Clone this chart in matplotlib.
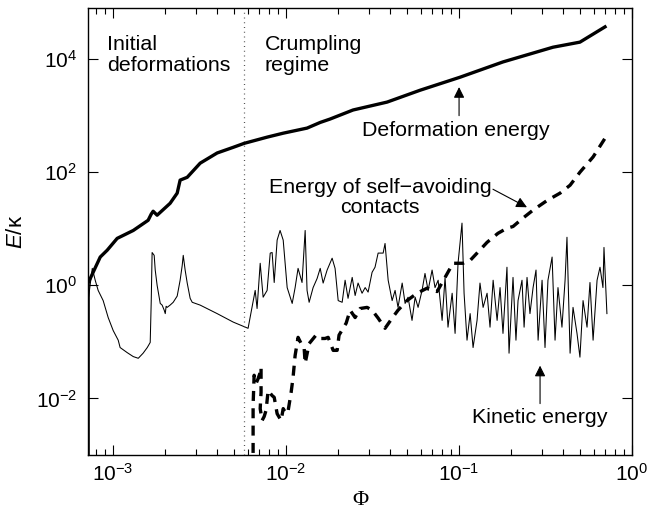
import numpy as np
import matplotlib
matplotlib.use("Agg")
import matplotlib.pyplot as plt
from matplotlib.ticker import FixedLocator, LogLocator, NullLocator, LogFormatterSciNotation

plt.rcParams['font.family'] = ['Liberation Sans', 'DejaVu Sans']
plt.rcParams['mathtext.fontset'] = 'custom'
plt.rcParams['mathtext.rm'] = 'Liberation Sans'
plt.rcParams['mathtext.it'] = 'Liberation Sans:italic'

# values, stored as log10(Phi) and log10(E/kappa)
deform_logphi = [-3.145, -3.145, -3.075, -3.035, -2.977, -2.884, -2.798, -2.780, -2.769,
                 -2.746, -2.671, -2.630, -2.613, -2.572, -2.497, -2.399, -2.306, -2.243,
                 -2.110, -2.017, -1.879, -1.803, -1.746, -1.613, -1.416, -1.225, -0.994,
                 -0.746, -0.457, -0.301, -0.156]
deform_logE = [-3.30, 0.04, 0.50, 0.62, 0.83, 0.97, 1.15, 1.26, 1.31,
               1.24, 1.45, 1.63, 1.86, 1.91, 2.16, 2.34, 2.44, 2.51,
               2.62, 2.69, 2.78, 2.88, 2.94, 3.10, 3.24, 3.45, 3.68,
               3.95, 4.21, 4.30, 4.57]

contact_logphi = [-2.191, -2.191, -2.191, -2.185, -2.173, -2.162, -2.150, -2.145, -2.145,
                  -2.150, -2.139, -2.127, -2.116, -2.104, -2.081, -2.069, -2.052, -2.029,
                  -2.017, -2.000, -1.988, -1.971, -1.960, -1.948, -1.931, -1.913, -1.896,
                  -1.890, -1.867, -1.827, -1.803, -1.775, -1.757, -1.728, -1.705, -1.694,
                  -1.653, -1.630, -1.601, -1.572, -1.532, -1.503, -1.468, -1.428, -1.387,
                  -1.353, -1.301, -1.243, -1.185, -1.127, -1.081, -1.035, -0.977, -0.936,
                  -0.896, -0.838, -0.775, -0.723, -0.688, -0.630, -0.572, -0.491, -0.416,
                  -0.358, -0.301, -0.225, -0.156]
contact_logE = [-3.27, -2.69, -2.12, -1.59, -1.73, -1.65, -1.54, -1.45, -1.89,
                -2.18, -2.39, -2.32, -2.21, -1.86, -1.95, -1.98, -2.27, -2.39,
                -2.18, -2.27, -2.21, -1.89, -1.63, -1.24, -0.92, -1.03, -1.10,
                -1.38, -1.03, -0.88, -0.94, -0.94, -0.92, -1.15, -1.15, -0.88,
                -0.67, -0.44, -0.57, -0.41, -0.39, -0.44, -0.58, -0.76, -0.58,
                -0.44, -0.27, -0.14, -0.05, -0.11, 0.14, 0.39, 0.39, 0.44,
                0.57, 0.76, 0.92, 1.01, 1.04, 1.19, 1.33, 1.50, 1.63,
                1.77, 2.00, 2.27, 2.60]

kin_logphi = [-3.145, -3.121, -3.104, -3.087, -3.058, -3.029, -3.000, -2.971, -2.960, -2.919,
              -2.884, -2.855, -2.827, -2.803, -2.786, -2.780, -2.775, -2.763, -2.757, -2.746,
              -2.728, -2.717, -2.705, -2.699, -2.694, -2.688, -2.671, -2.653, -2.630, -2.613,
              -2.601, -2.595, -2.584, -2.572, -2.555, -2.543, -2.497, -2.399, -2.306, -2.220,
              -2.179, -2.168, -2.150, -2.133, -2.110, -2.092, -2.081, -2.069, -2.052, -2.035,
              -2.017, -1.994, -1.965, -1.948, -1.931, -1.908, -1.890, -1.879, -1.867, -1.844,
              -1.821, -1.803, -1.786, -1.763, -1.734, -1.717, -1.699, -1.676, -1.659, -1.642,
              -1.618, -1.601, -1.584, -1.561, -1.543, -1.526, -1.503, -1.486, -1.468, -1.457,
              -1.439, -1.428, -1.410, -1.387, -1.370, -1.353, -1.329, -1.312, -1.295, -1.272,
              -1.254, -1.237, -1.214, -1.197, -1.179, -1.156, -1.139, -1.121, -1.098, -1.081,
              -1.064, -1.040, -1.023, -1.006, -0.983, -0.971, -0.954, -0.936, -0.919, -0.896,
              -0.879, -0.861, -0.838, -0.821, -0.803, -0.780, -0.763, -0.746, -0.723, -0.711,
              -0.688, -0.671, -0.659, -0.636, -0.624, -0.607, -0.590, -0.572, -0.555, -0.543,
              -0.520, -0.503, -0.486, -0.462, -0.445, -0.428, -0.405, -0.387, -0.376, -0.358,
              -0.341, -0.318, -0.301, -0.283, -0.260, -0.243, -0.225, -0.202, -0.185, -0.168,
              -0.162, -0.145]
kin_logE = [-0.27, 0.30, 0.09, -0.09, -0.27, -0.57, -0.80, -0.97, -1.10, -1.19,
            -1.26, -1.29, -1.20, -1.10, -1.01, -0.27, 0.58, 0.53, 0.27, 0.00,
            -0.32, -0.35, -0.44, -0.50, -0.37, -0.39, -0.35, -0.30, -0.19, 0.09,
            0.35, 0.53, 0.27, 0.04, -0.23, -0.30, -0.35, -0.50, -0.65, -0.76,
            -0.09, -0.41, 0.39, -0.21, -0.09, 0.57, 0.58, 0.05, 0.80, 0.97,
            0.80, -0.04, -0.32, -0.04, 0.30, 0.05, 0.97, -0.09, -0.30, -0.04,
            0.12, 0.30, 0.04, 0.27, 0.48, 0.30, -0.27, -0.30, 0.09, -0.23,
            0.14, -0.18, 0.04, -0.14, -0.04, -0.12, 0.23, 0.32, 0.57, 0.57,
            0.57, 0.74, 0.09, -0.27, -0.09, -0.39, 0.04, -0.32, -0.21, -0.62,
            -0.21, -0.39, -0.09, 0.21, -0.09, 0.27, -0.04, 0.09, -0.62, 0.14,
            -0.74, -0.14, -0.85, 0.39, 1.10, -0.14, -0.97, -0.50, -1.10, -0.62,
            0.04, -0.39, -0.14, -0.74, 0.09, -0.62, -0.04, -0.85, 0.32, -1.20,
            0.14, -0.97, -0.27, 0.09, -0.74, 0.14, -0.50, -0.04, 0.27, -0.97,
            0.09, -1.10, 0.09, 0.50, -0.97, -0.04, -0.74, 0.09, 0.85, -1.20,
            -0.39, -0.85, -1.27, -0.27, -0.74, 0.05, -0.97, 0.09, 0.32, -0.04,
            0.67, -0.50]

phi_boundary = 5.7e-3
yticks = [1e-2, 1e0, 1e2, 1e4]

fig = plt.figure(figsize=(6.49, 5.11), dpi=100)
ax = fig.add_axes([0.1356, 0.1096, 0.8382, 0.8747])

ax.plot(np.power(10.0, kin_logphi), np.power(10.0, kin_logE), color='k', lw=0.75)
ax.plot(np.power(10.0, contact_logphi), np.power(10.0, contact_logE), color='k', lw=2.4,
        ls=(0, (3.0, 2.2)))
ax.plot(np.power(10.0, deform_logphi), np.power(10.0, deform_logE), color='k', lw=2.4)
ax.axvline(phi_boundary, color='#555555', lw=0.9, ls=(0, (0.8, 3)))

ax.set_xscale('log')
ax.set_yscale('log')
ax.set_xlim(7.15e-4, 1.0)
ax.set_ylim(1.0e-3, 8.0e4)

ax.xaxis.set_major_locator(FixedLocator([1e-3, 1e-2, 1e-1, 1e0]))
ax.xaxis.set_minor_locator(LogLocator(base=10, subs=np.arange(2, 10), numticks=10))
ax.yaxis.set_major_locator(FixedLocator(yticks))
ax.yaxis.set_minor_locator(NullLocator())
ax.xaxis.set_major_formatter(LogFormatterSciNotation())
ax.yaxis.set_major_formatter(LogFormatterSciNotation())

ax.tick_params(which='both', direction='in', top=True, right=True, labelsize=15)
ax.tick_params(which='major', length=7, width=0.8)
ax.tick_params(which='minor', length=4, width=0.8)
ax.tick_params(axis='y', pad=8)
ax.tick_params(axis='x', pad=6)
for s in ax.spines.values():
    s.set_linewidth(1.0)

ax.set_xlabel('Φ', fontsize=16, family=['Liberation Serif', 'DejaVu Serif'], labelpad=4)
ax.set_ylabel(r'$E$/κ', fontsize=16, labelpad=6)

fs = 15.4
ax.text(0.035, 0.94, 'Initial\ndeformations', transform=ax.transAxes, fontsize=fs,
        va='top', ha='left', linespacing=1.15)
ax.text(0.325, 0.94, 'Crumpling\nregime', transform=ax.transAxes, fontsize=fs,
        va='top', ha='left', linespacing=1.15)

arrow = dict(arrowstyle='-|>', color='k', lw=0.8, mutation_scale=16, shrinkA=0, shrinkB=0)

ax.text(0.096, 5.5e2, 'Deformation energy', fontsize=fs, ha='center', va='center')
ax.annotate('', xy=(0.1, 3.2e3), xytext=(0.1, 1.0e3), arrowprops=arrow)

ax.text(0.035, 36.0, 'Energy of self\u2212avoiding\ncontacts', fontsize=fs,
        ha='center', va='center', linespacing=1.1)
ax.annotate('', xy=(0.247, 24.0), xytext=(0.157, 50.0), arrowprops=arrow)

ax.text(0.294, 4.6e-3, 'Kinetic energy', fontsize=fs, ha='center', va='center')
ax.annotate('', xy=(0.294, 0.038), xytext=(0.294, 8.1e-3), arrowprops=arrow)

fig.savefig('out.png', dpi=100)
